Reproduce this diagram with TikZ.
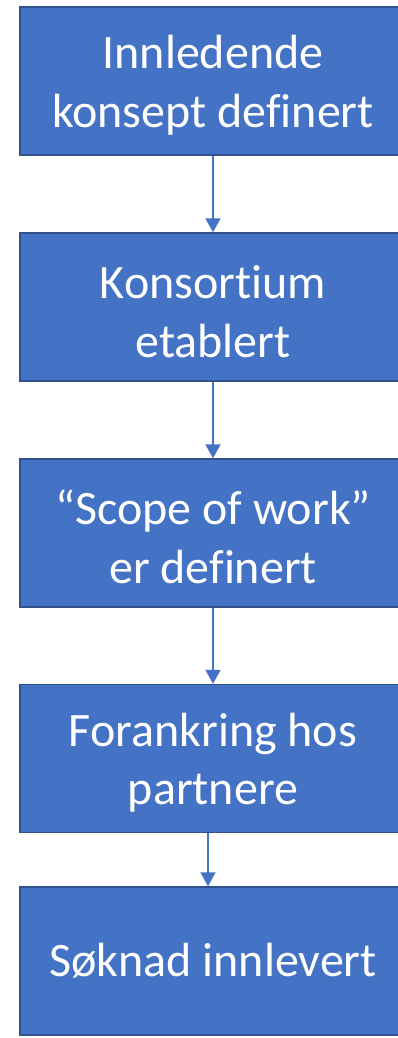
\documentclass[tikz,border=0pt]{standalone}
\usepackage{fontspec}
\setmainfont{Carlito}[Ligatures=CommonOff]
\usetikzlibrary{arrows.meta}
\definecolor{boxfill}{HTML}{4472C4}
\definecolor{boxline}{HTML}{2F528F}
\newcommand{\lowerstrut}{\rule{0pt}{42pt}}
\tikzset{
  stepbox/.style={rectangle, draw=boxline, line width=1.5pt, fill=boxfill,
    minimum width=386pt, minimum height=148pt, inner sep=0pt,
    text=white, align=center, font=\fontsize{48}{58.5}\selectfont},
  flow/.style={draw=boxfill, line width=2pt, -{Triangle[length=14pt,width=15pt]}}
}
\begin{document}
\begin{tikzpicture}[x=1pt,y=-1pt]
\useasboundingbox (0,0) rectangle (398,1038);
\clip (0,0) rectangle (398,1038);
\node[stepbox] (b1) at (213,81) {\lowerstrut Innledende\\konsept definert};
\node[stepbox] (b2) at (213,307) {\lowerstrut Konsortium\\etablert};
\node[stepbox] (b3) at (213,533) {\lowerstrut “Scope of work”\\er definert};
\node[stepbox] (b4) at (213,758.5) {\lowerstrut Forankring hos\\partnere};
\node[stepbox] (b5) at (213,961) {Søknad innlevert};
\draw[flow] (b1.south) -- (b2.north);
\draw[flow] (b2.south) -- (b3.north);
\draw[flow] (b3.south) -- (b4.north);
\draw[flow] ([xshift=-5pt]b4.south) -- ([xshift=-5pt]b5.north);
\end{tikzpicture}
\end{document}
